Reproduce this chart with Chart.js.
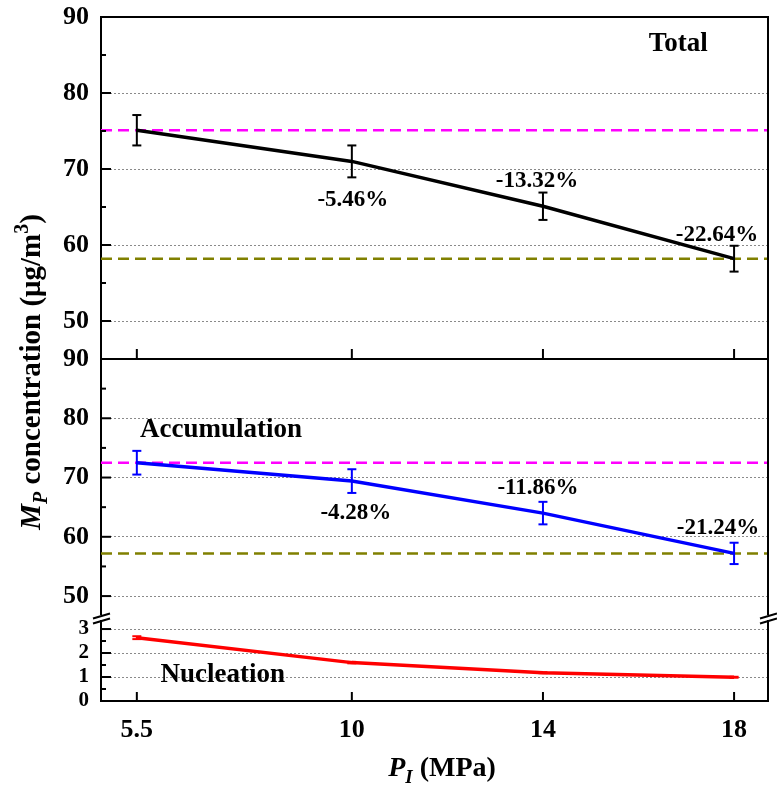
<!DOCTYPE html>
<html>
<head>
<meta charset="utf-8">
<script src="https://cdn.jsdelivr.net/npm/chart.js@4.4.1/dist/chart.umd.min.js"></script>
<style>
  html, body { margin: 0; background: #fff; }
</style>
</head>
<body>
<canvas id="chart" width="777" height="787"></canvas>
<script>
// data
const pressures = [5.5, 10, 14, 18]
const totalMp = [75.1, 71.0, 65.1, 58.2]
const totalErr = [2.0, 2.1, 1.8, 1.7]
const totalPct = ['', '-5.46%', '-13.32%', '-22.64%']
const accMp = [72.5, 69.4, 64.0, 57.2]
const accErr = [2.0, 2.0, 1.9, 1.8]
const accPct = ['', '-4.28%', '-11.86%', '-21.24%']
const nucMp = [2.64, 1.6, 1.18, 0.99]
const nucErr = [0.06, 0.03, 0.02, 0.02]

// ticks
const xTicks = [5.5, 10, 14, 18]
const upperTicks = [50, 60, 70, 80, 90]
const upperMinor = [55, 65, 75, 85]
const lowerTicks = [0, 1, 2, 3]
const lowerMinor = [0.5, 1.5, 2.5]

const SERIF = "'Liberation Serif', 'Times New Roman', serif"
const font = (px, style = '') => `${style} bold ${px}px ${SERIF}`

// what goes where
const series = [
  {axis: 'yTop', values: totalMp, err: totalErr, color: '#000000', refs: true,
   pct: totalPct, pctShift: [[0, 0], [1, 39], [-6, -25], [-17, -24]],
   name: 'Total', nameAt: [16.83, 86.4]},
  {axis: 'yMid', values: accMp, err: accErr, color: '#0000ff', refs: true,
   pct: accPct, pctShift: [[0, 0], [4, 32], [-5, -25], [-16, -25]],
   name: 'Accumulation', nameAt: [7.26, 78.0]},
  {axis: 'yBot', values: nucMp, err: nucErr, color: '#ff0000', refs: false,
   pct: null, name: 'Nucleation', nameAt: [7.3, 1.08]}
]

const line = (ctx, x1, y1, x2, y2) => {
  ctx.beginPath()
  ctx.moveTo(x1, y1)
  ctx.lineTo(x2, y2)
  ctx.stroke()
}

// text made of pieces: [text, fontsize, style, baseline shift]
const runs = (ctx, parts, x, y, align) => {
  let w = 0
  parts.forEach(p => { ctx.font = font(p[1], p[2]); w += ctx.measureText(p[0]).width })
  let cx = align === 'center' ? x - w / 2 : x
  parts.forEach(p => {
    ctx.font = font(p[1], p[2])
    ctx.fillText(p[0], cx, y + p[3])
    cx += ctx.measureText(p[0]).width
  })
}

const frame = {
  id: 'frame',
  beforeDatasetsDraw(chart) {
    const {ctx, chartArea: a, scales} = chart
    ctx.save()
    ctx.lineWidth = 2.5
    ctx.setLineDash([11, 6])
    series.filter(s => s.refs).forEach(s => {
      const sc = scales[s.axis]
      const refs = [[s.values[0], '#ff00ff'], [s.values[s.values.length - 1], '#808000']]
      refs.forEach(([v, c]) => {
        const y = sc.getPixelForValue(v)
        ctx.strokeStyle = c
        line(ctx, a.left, y, a.right, y)
      })
    })
    ctx.restore()
  },
  afterDatasetsDraw(chart) {
    const {ctx, scales} = chart
    ctx.save()
    ctx.lineWidth = 2
    series.forEach(s => {
      const sc = scales[s.axis]
      ctx.strokeStyle = s.color
      pressures.forEach((p, i) => {
        const x = scales.x.getPixelForValue(p)
        const y1 = sc.getPixelForValue(s.values[i] - s.err[i])
        const y2 = sc.getPixelForValue(s.values[i] + s.err[i])
        line(ctx, x, y1, x, y2)
        line(ctx, x - 4.5, y1, x + 4.5, y1)
        line(ctx, x - 4.5, y2, x + 4.5, y2)
      })
    })
    ctx.restore()
  },
  afterDraw(chart) {
    const {ctx, chartArea: a, scales} = chart
    const {yTop, yMid, yBot, x} = scales
    ctx.save()
    ctx.strokeStyle = '#000'
    ctx.lineWidth = 2
    // box and divider
    line(ctx, a.left - 1, a.top, a.right + 1, a.top)
    line(ctx, a.right, a.top, a.right, a.bottom + 1)
    line(ctx, a.left - 1, yTop.bottom, a.right + 1, yTop.bottom)
    // inward ticks
    const yt = (sc, major, minor) => {
      major.forEach(v => { const y = sc.getPixelForValue(v); line(ctx, a.left, y, a.left + 10, y) })
      minor.forEach(v => { const y = sc.getPixelForValue(v); line(ctx, a.left, y, a.left + 5, y) })
    }
    yt(yTop, upperTicks, upperMinor)
    yt(yMid, upperTicks, upperMinor)
    yt(yBot, lowerTicks, lowerMinor)
    xTicks.forEach(v => {
      const px = x.getPixelForValue(v)
      line(ctx, px, a.bottom, px, a.bottom - 9)
      line(ctx, px, yTop.bottom, px, yTop.bottom - 10)
    })
    // axis break
    const by = yMid.bottom
    ;[a.left, a.right].forEach(bx => {
      ctx.fillStyle = '#fff'
      ctx.fillRect(bx - 2, by - 3, 4, 5)
      ctx.lineWidth = 2
      line(ctx, bx - 8, by + 0.5, bx + 9, by - 4.5)
      line(ctx, bx - 8, by + 5.5, bx + 9, by + 0.5)
    })
    // labels
    ctx.fillStyle = '#000'
    ctx.textAlign = 'center'
    ctx.textBaseline = 'middle'
    series.forEach(s => {
      const sc = scales[s.axis]
      ctx.font = font(27)
      ctx.fillText(s.name, x.getPixelForValue(s.nameAt[0]), sc.getPixelForValue(s.nameAt[1]))
      if (!s.pct) return
      ctx.font = font(23)
      s.pct.forEach((t, i) => {
        if (!t) return
        ctx.fillText(t, x.getPixelForValue(pressures[i]) + s.pctShift[i][0],
          sc.getPixelForValue(s.values[i]) + s.pctShift[i][1])
      })
    })
    // axis titles
    ctx.textAlign = 'left'
    ctx.textBaseline = 'alphabetic'
    runs(ctx, [['P', 28, 'italic', 0], ['I', 19, 'italic', 7], [' (MPa)', 28, '', 0]], 442, 776, 'center')
    ctx.translate(40, 372)
    ctx.rotate(-Math.PI / 2)
    runs(ctx, [['M', 29, 'italic', 0], ['P', 20, 'italic', 7], [' concentration (\u03bcg/m', 29, '', 0],
      ['3', 20, '', -12], [')', 29, '', 0]], 0, 0, 'center')
    ctx.restore()
  }
}

const yScale = (min, max, ticks, size, weight, stackWeight) => ({
  type: 'linear',
  position: 'left',
  stack: 'mp',
  stackWeight: stackWeight,
  weight: weight,
  min: min,
  max: max,
  afterBuildTicks: s => { s.ticks = ticks.map(v => ({value: v})) },
  afterFit: s => { s.width = 101; s.paddingTop = 0; s.paddingBottom = 0 },
  grid: {color: '#8a8a8a', lineWidth: 1, drawTicks: false},
  border: {display: true, color: '#000', width: 2, dash: [2, 2]},
  ticks: {color: '#000', font: {family: SERIF, size: size, weight: 'bold'}, padding: 12, autoSkip: false}
})

new Chart(document.getElementById('chart'), {
  type: 'line',
  data: {
    datasets: series.map(s => ({
      label: s.name,
      yAxisID: s.axis,
      data: pressures.map((p, i) => ({x: p, y: s.values[i]})),
      borderColor: s.color,
      backgroundColor: s.color,
      borderWidth: 3.5,
      pointRadius: 0,
      tension: 0
    }))
  },
  options: {
    responsive: false,
    animation: false,
    devicePixelRatio: 1,
    layout: {padding: {top: 17, right: 9, left: 0, bottom: 0}},
    plugins: {legend: {display: false}, tooltip: {enabled: false}},
    scales: {
      x: {
        type: 'linear',
        min: 4.75,
        max: 18.71,
        afterBuildTicks: s => { s.ticks = xTicks.map(v => ({value: v})) },
        afterFit: s => { s.height = 86; s.paddingLeft = 0; s.paddingRight = 0 },
        grid: {display: false},
        border: {display: true, color: '#000', width: 2},
        ticks: {color: '#000', font: {family: SERIF, size: 26, weight: 'bold'}, padding: 6, autoSkip: false, maxRotation: 0}
      },
      yTop: yScale(45, 90, upperTicks, 26, 3, 342),
      yMid: yScale(46.3, 90, upperTicks, 26, 2, 259),
      yBot: yScale(0, 3.46, lowerTicks, 21, 1, 83)
    }
  },
  plugins: [frame]
})
</script>
</body>
</html>
